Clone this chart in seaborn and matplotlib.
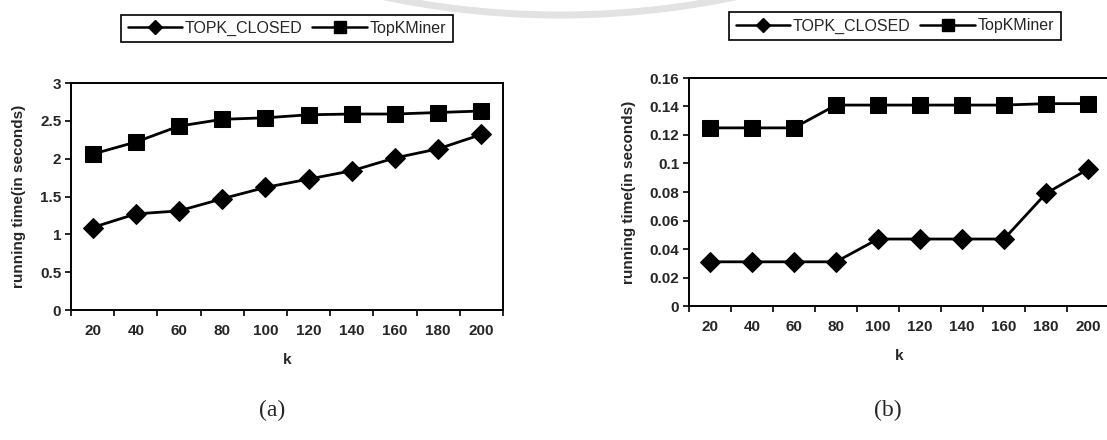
import matplotlib
matplotlib.use("Agg")
import matplotlib.pyplot as plt
import seaborn as sns
import pandas as pd
import numpy as np
from matplotlib.lines import Line2D
from matplotlib.patches import Arc
from matplotlib.transforms import IdentityTransform

# ---- data ----
k_values = [20, 40, 60, 80, 100, 120, 140, 160, 180, 200]
series_names = ["TOPK_CLOSED", "TopKMiner"]
a_topk_closed = [1.09, 1.27, 1.31, 1.47, 1.62, 1.73, 1.84, 2.01, 2.13, 2.32]
a_topkminer = [2.06, 2.22, 2.43, 2.52, 2.54, 2.58, 2.59, 2.59, 2.61, 2.63]
b_topk_closed = [0.031, 0.031, 0.031, 0.031, 0.047, 0.047, 0.047, 0.047, 0.079, 0.096]
b_topkminer = [0.125, 0.125, 0.125, 0.141, 0.141, 0.141, 0.141, 0.141, 0.142, 0.142]
a_yticks = [0, 0.5, 1, 1.5, 2, 2.5, 3]
a_yticklabels = ["0", "0.5", "1", "1.5", "2", "2.5", "3"]
b_yticks = [0, 0.02, 0.04, 0.06, 0.08, 0.1, 0.12, 0.14, 0.16]
b_yticklabels = ["0", "0.02", "0.04", "0.06", "0.08", "0.1", "0.12", "0.14", "0.16"]
panel_labels = ["(a)", "(b)"]
x_label = "k"
y_label = "running time(in seconds)"

sns.set_theme(style="white")
plt.rcParams['font.family'] = ['Liberation Sans', 'DejaVu Sans']

W, H = 1107, 440
fig = plt.figure(figsize=(W / 100, H / 100), dpi=100)

# faint scan watermark arc at the top (display pixel coords, origin bottom-left)
arc = Arc((560, H + 846), 2 * 861, 2 * 861, theta1=255, theta2=285,
          color="#e2e2e2", lw=5)
arc.set_transform(IdentityTransform())
fig.patches.append(arc)

def px_axes(l, t, r, b):
    return fig.add_axes([l / W, 1 - b / H, (r - l) / W, (b - t) / H])

ax_a = px_axes(71, 83, 503, 310)
ax_b = px_axes(689, 78, 1109, 306)

markers = {"TOPK_CLOSED": "D", "TopKMiner": "s"}
msizes = {"TOPK_CLOSED": 10, "TopKMiner": 12}

def draw(ax, closed, miner, yticks, yticklabels):
    df = pd.DataFrame({
        "k": k_values * 2,
        "time": list(closed) + list(miner),
        "series": [series_names[0]] * len(k_values) + [series_names[1]] * len(k_values),
    })
    for name in series_names:
        sub = df[df["series"] == name]
        sns.lineplot(data=sub, x="k", y="time", ax=ax, color="black",
                     marker=markers[name], markersize=msizes[name],
                     markeredgecolor="black", markerfacecolor="black",
                     linewidth=2.0, legend=False)
    ax.set_xlim(10, 210)
    ax.set_ylim(yticks[0], yticks[-1])
    ax.set_xticks(np.arange(10, 211, 20))
    ax.set_xticklabels([])
    ax.set_xticks(k_values, minor=True)
    ax.set_xticklabels([str(v) for v in k_values], minor=True,
                       fontsize=11, fontweight="bold")
    ax.tick_params(axis="x", which="major", direction="out", length=4, width=1.2,
                   color="black", bottom=True)
    ax.tick_params(axis="x", which="minor", length=0, pad=10)
    ax.set_yticks(yticks)
    ax.set_yticklabels(yticklabels, fontsize=11, fontweight="bold")
    ax.tick_params(axis="y", direction="out", length=4, width=1.2, color="black",
                   left=True, pad=3)
    for s in ax.spines.values():
        s.set_color("black")
        s.set_linewidth(1.4)
    ax.set_xlabel(x_label, fontsize=11, fontweight="bold", labelpad=11)
    ax.set_ylabel(y_label, fontsize=11, fontweight="bold", labelpad=10)
    ax.grid(False)

draw(ax_a, a_topk_closed, a_topkminer, a_yticks, a_yticklabels)
draw(ax_b, b_topk_closed, b_topkminer, b_yticks, b_yticklabels)

handles = [Line2D([0], [0], color="black", lw=1.8, marker=markers[n],
                  markersize=msizes[n] * 0.75, markerfacecolor="black")
           for n in series_names]

for cx, cy in [(287, 28.5), (895, 26)]:
    leg = fig.legend(handles, series_names, loc="center",
                     bbox_to_anchor=(cx / W, 1 - cy / H), ncol=2,
                     frameon=True, fancybox=False, edgecolor="black",
                     fontsize=11.5, handlelength=3.4, handletextpad=0.2,
                     columnspacing=0.6, borderpad=0.4, framealpha=1)
    leg.get_frame().set_linewidth(1.2)

for (cx, cy), lab in zip([(272, 410), (888, 410)], panel_labels):
    fig.text(cx / W, 1 - cy / H, lab, ha="center", va="center",
             fontsize=17, family=["Liberation Serif", "DejaVu Serif"])

fig.savefig("out.png", dpi=100)
